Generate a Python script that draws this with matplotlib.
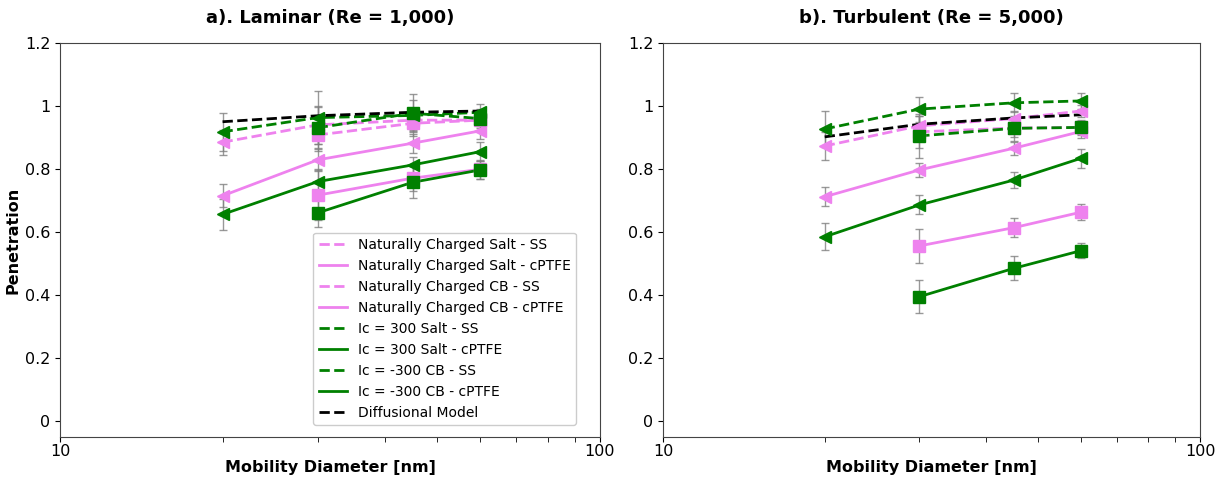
import matplotlib
matplotlib.use("Agg")
import matplotlib.pyplot as plt
from matplotlib.lines import Line2D
from matplotlib.ticker import FixedLocator, FuncFormatter, NullFormatter, LogLocator

# mobility diameters [nm]
d4 = [20, 30, 45, 60]
d3 = [30, 45, 60]

labels = ["Naturally Charged Salt - SS", "Naturally Charged Salt - cPTFE",
          "Naturally Charged CB - SS", "Naturally Charged CB - cPTFE",
          "Ic = 300 Salt - SS", "Ic = 300 Salt - cPTFE",
          "Ic = -300 CB - SS", "Ic = -300 CB - cPTFE",
          "Diffusional Model"]

# laminar, Re = 1,000
lam_nc_salt_ss = [0.885, 0.94, 0.955, 0.955]
lam_nc_salt_ss_err = [0.04, 0.06, 0.03, 0.02]
lam_nc_salt_pt = [0.715, 0.829, 0.882, 0.921]
lam_nc_salt_pt_err = [0.037, 0.035, 0.03, 0.025]
lam_nc_cb_ss = [0.908, 0.945, 0.955]
lam_nc_cb_ss_err = [0.05, 0.04, 0.02]
lam_nc_cb_pt = [0.717, 0.771, 0.799]
lam_nc_cb_pt_err = [0.08, 0.04, 0.03]
lam_ic_salt_ss = [0.918, 0.963, 0.97, 0.98]
lam_ic_salt_ss_err = [0.06, 0.085, 0.05, 0.025]
lam_ic_salt_pt = [0.656, 0.76, 0.813, 0.855]
lam_ic_salt_pt_err = [0.05, 0.04, 0.025, 0.03]
lam_ic_cb_ss = [0.931, 0.977, 0.96]
lam_ic_cb_ss_err = [0.065, 0.06, 0.03]
lam_ic_cb_pt = [0.661, 0.758, 0.797]
lam_ic_cb_pt_err = [0.045, 0.05, 0.03]
lam_diff = [0.95, 0.969, 0.98, 0.984]

# turbulent, Re = 5,000
tur_nc_salt_ss = [0.873, 0.937, 0.96, 0.984]
tur_nc_salt_ss_err = [0.045, 0.03, 0.025, 0.02]
tur_nc_salt_pt = [0.712, 0.797, 0.866, 0.919]
tur_nc_salt_pt_err = [0.03, 0.023, 0.02, 0.02]
tur_nc_cb_ss = [0.918, 0.93, 0.932]
tur_nc_cb_ss_err = [0.05, 0.03, 0.02]
tur_nc_cb_pt = [0.556, 0.614, 0.663]
tur_nc_cb_pt_err = [0.053, 0.03, 0.025]
tur_ic_salt_ss = [0.927, 0.99, 1.01, 1.016]
tur_ic_salt_ss_err = [0.057, 0.04, 0.03, 0.025]
tur_ic_salt_pt = [0.585, 0.686, 0.765, 0.834]
tur_ic_salt_pt_err = [0.043, 0.03, 0.025, 0.03]
tur_ic_cb_ss = [0.905, 0.929, 0.932]
tur_ic_cb_ss_err = [0.07, 0.04, 0.025]
tur_ic_cb_pt = [0.395, 0.485, 0.541]
tur_ic_cb_pt_err = [0.052, 0.038, 0.024]
tur_diff = [0.902, 0.942, 0.962, 0.972]

pink = "violet"
green = "green"

lam = [(d4, lam_nc_salt_ss, lam_nc_salt_ss_err, pink, "--", "<"),
       (d4, lam_nc_salt_pt, lam_nc_salt_pt_err, pink, "-", "<"),
       (d3, lam_nc_cb_ss, lam_nc_cb_ss_err, pink, "--", "s"),
       (d3, lam_nc_cb_pt, lam_nc_cb_pt_err, pink, "-", "s"),
       (d4, lam_ic_salt_ss, lam_ic_salt_ss_err, green, "--", "<"),
       (d4, lam_ic_salt_pt, lam_ic_salt_pt_err, green, "-", "<"),
       (d3, lam_ic_cb_ss, lam_ic_cb_ss_err, green, "--", "s"),
       (d3, lam_ic_cb_pt, lam_ic_cb_pt_err, green, "-", "s")]
tur = [(d4, tur_nc_salt_ss, tur_nc_salt_ss_err, pink, "--", "<"),
       (d4, tur_nc_salt_pt, tur_nc_salt_pt_err, pink, "-", "<"),
       (d3, tur_nc_cb_ss, tur_nc_cb_ss_err, pink, "--", "s"),
       (d3, tur_nc_cb_pt, tur_nc_cb_pt_err, pink, "-", "s"),
       (d4, tur_ic_salt_ss, tur_ic_salt_ss_err, green, "--", "<"),
       (d4, tur_ic_salt_pt, tur_ic_salt_pt_err, green, "-", "<"),
       (d3, tur_ic_cb_ss, tur_ic_cb_ss_err, green, "--", "s"),
       (d3, tur_ic_cb_pt, tur_ic_cb_pt_err, green, "-", "s")]

fig = plt.figure(figsize=(12.15, 4.8), dpi=100)
ax1 = fig.add_axes([0.0494, 0.0896, 0.4444, 0.821])
ax2 = fig.add_axes([0.5457, 0.0896, 0.4420, 0.821])


def draw(ax, series, diff, title):
    for x, y, e, c, ls, m in series:
        ax.errorbar(x, y, yerr=e, fmt="none", ecolor="gray", elinewidth=1,
                    capsize=3, capthick=1, alpha=0.8, zorder=1)
    for x, y, e, c, ls, m in series:
        ax.plot(x, y, ls=ls, color=c, lw=2, zorder=2)
        ax.plot(x, y, ls="none", marker=m, color=c, ms=8, zorder=3)
    ax.plot(d4, diff, ls="--", color="black", lw=2, zorder=2)
    ax.set_xscale("log")
    ax.set_xlim(10, 100)
    ax.set_ylim(-0.05, 1.2)
    ax.yaxis.set_major_locator(FixedLocator([0, 0.2, 0.4, 0.6, 0.8, 1.0, 1.2]))
    ax.yaxis.set_major_formatter(FuncFormatter(lambda v, p: f"{v:g}"))
    ax.xaxis.set_major_locator(FixedLocator([10, 100]))
    ax.xaxis.set_major_formatter(FuncFormatter(lambda v, p: f"{v:g}"))
    ax.xaxis.set_minor_locator(LogLocator(base=10, subs=range(2, 10)))
    ax.xaxis.set_minor_formatter(NullFormatter())
    ax.tick_params(labelsize=11.5)
    ax.tick_params(axis="x", which="both", length=3.5, pad=1.5)
    ax.set_xlabel("Mobility Diameter [nm]", fontsize=11.5, fontweight="bold",
                  labelpad=1)
    ax.set_title(title, fontsize=13, fontweight="bold", pad=14)
    for s in ax.spines.values():
        s.set_color("#444444")


draw(ax1, lam, lam_diff, "a). Laminar (Re = 1,000)")
draw(ax2, tur, tur_diff, "b). Turbulent (Re = 5,000)")
ax1.set_ylabel("Penetration", fontsize=11.5, fontweight="bold", labelpad=3)

handles = [Line2D([], [], color=c, ls=ls, lw=2) for x, y, e, c, ls, m in lam]
handles.append(Line2D([], [], color="black", ls="--", lw=2))
ax1.legend(handles, labels, loc="lower right", bbox_to_anchor=(0.956, 0.03),
           borderaxespad=0, fontsize=10, framealpha=1, edgecolor="#cccccc")

fig.savefig("out.png", dpi=100)
